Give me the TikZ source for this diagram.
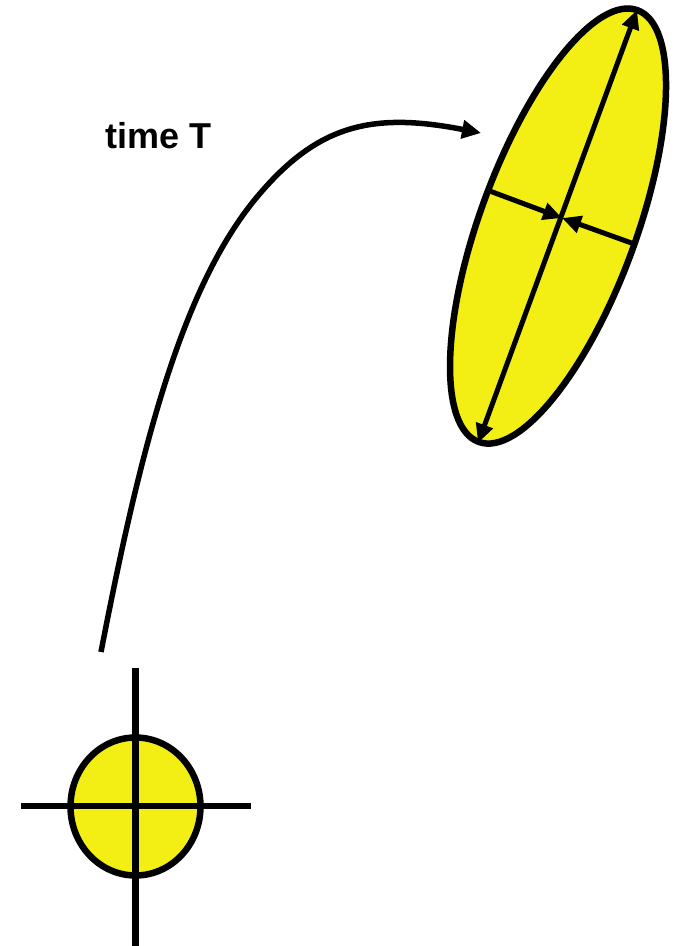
\documentclass[tikz,border=0pt]{standalone}
\usepackage{fontspec}
\setmainfont{Liberation Sans}
\usetikzlibrary{arrows.meta}
\definecolor{blobyellow}{RGB}{243,238,19}
\tikzset{
  outline/.style={line width=6.5pt, draw=black, fill=blobyellow},
  cross/.style={line width=6.5pt, draw=black},
  axisarrow/.style={line width=5pt, draw=black, -{Triangle[length=19pt,width=17pt]}},
  bothaxis/.style={line width=5pt, draw=black, {Triangle[length=19pt,width=17pt]}-{Triangle[length=19pt,width=17pt]}},
  pathcurve/.style={line width=5.5pt, draw=black, -{Triangle[length=19pt,width=18pt]}},
  lbl/.style={font=\fontsize{36}{40}\selectfont\bfseries, inner sep=0pt, anchor=base west}
}
\begin{document}
\begin{tikzpicture}[x=1pt,y=1pt]
\useasboundingbox (0,0) rectangle (678,946);
% final state ellipse
\coordinate (ec) at (558,720);
\draw[outline, rotate around={69.8:(ec)}] (ec) ellipse [x radius=230, y radius=78];
\coordinate (majA) at (637,936);
\coordinate (majB) at (478,503);
\coordinate (mid) at (562,728);
\coordinate (minL) at (487,756);
\coordinate (minR) at (637,701);
\draw[bothaxis] (majB) -- (majA);
\draw[axisarrow] (minL) -- (mid);
\draw[axisarrow] (minR) -- (mid);
% initial state circle
\coordinate (cc) at (135.5,139.5);
\draw[outline] (cc) ellipse [x radius=65, y radius=69];
\coordinate (hL) at (21,140);
\coordinate (hR) at (251,140);
\coordinate (vT) at (135.3,278);
\coordinate (vB) at (135.3,-4);
\draw[cross] (hL) -- (hR);
\draw[cross] (vB) -- (vT);
% trajectory
\coordinate (start) at (101,294);
\coordinate (bend) at (257,749);
\coordinate (tip) at (481,813);
\draw[pathcurve] (start) .. controls (139,490) and (180,657) .. (bend)
  .. controls (318,822) and (373,834) .. (tip);
\node[lbl] (time) at (105,797) {time T};
\end{tikzpicture}
\end{document}
